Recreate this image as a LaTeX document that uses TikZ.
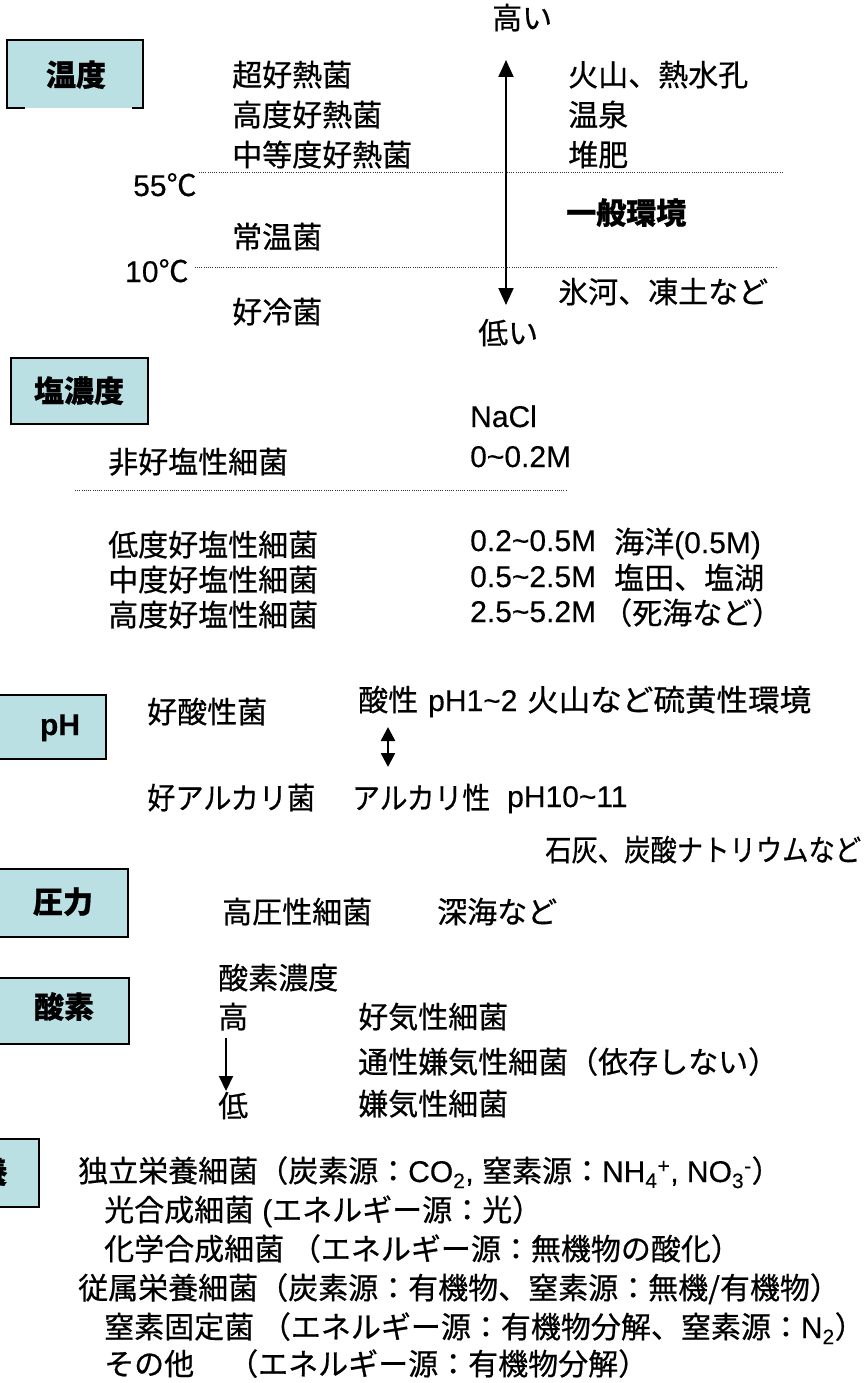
\documentclass[tikz,border=0pt]{standalone}
\usepackage{fontspec}
\usepackage{graphicx}
\setmainfont{Noto Sans CJK JP}[FakeBold=0.6]
\newfontfamily\lat{Liberation Sans}[FakeBold=0.3]
\usetikzlibrary{arrows.meta}
\definecolor{boxblue}{RGB}{186,224,228}
\newcommand{\fs}{\fontsize{30}{34}\selectfont}
\newcommand{\tl}{\textasciitilde}
\newcommand{\sq}[2]{\resizebox{#1pt}{\height}{#2}}
\begin{document}
\begin{tikzpicture}[x=1pt,y=-1pt,
  txt/.style={anchor=west,inner sep=0pt,font=\fs,text height=25pt,text depth=3pt},
  boxlbl/.style={inner sep=0pt,font=\fs\bfseries,text height=25pt,text depth=3pt},
  catbox/.style={fill=boxblue,draw=black,line width=2pt},
  dotline/.style={line width=1pt,dash pattern=on 1pt off 1.2pt,draw=black!80},
  bigarrow/.style={line width=2pt,{Triangle[width=15pt,length=17pt]}-{Triangle[width=15pt,length=17pt]}},
  downarrow/.style={line width=2pt,-{Triangle[width=14pt,length=15pt]}},
  smallarrow/.style={line width=2.5pt,{Triangle[width=14pt,length=14pt]}-{Triangle[width=14pt,length=14pt]}}]
\useasboundingbox (0,0) rectangle (866,1383);
\clip (0,0) rectangle (866,1383);
% ---------- 温度 ----------
\fill[boxblue] (7,40) rectangle (143,108);
\draw[line width=2pt] (25,108) -- (7,108) -- (7,40) -- (143,40) -- (143,108) -- (132,108);
\node[boxlbl] (tempL) at (76,75) {温度};
\node[txt] (high) at (492,18) {高い};
\node[txt] (low) at (478,333) {低い};
\coordinate (arrT) at (506,60);
\coordinate (arrB) at (506,305);
\draw[bigarrow] (arrT) -- (arrB);
\node[txt] (t1) at (232,75) {超好熱菌};
\node[txt] (t2) at (232,115) {高度好熱菌};
\node[txt] (t3) at (232,155) {中等度好熱菌};
\node[txt] (e1) at (568,75) {火山、熱水孔};
\node[txt] (e2) at (568,115) {温泉};
\node[txt] (e3) at (568,155) {堆肥};
\node[txt] (c55) at (133,185) {{\lat 55}℃};
\coordinate (l55e) at (783,173);
\draw[dotline] ([xshift=2pt]c55.east |- l55e) -- (l55e);
\node[txt] (t4) at (232,237) {常温菌};
\node[txt,font=\fs\bfseries] (e4) at (566,213) {一般環境};
\node[txt] (c10) at (125,271) {{\lat 10}℃};
\coordinate (l10e) at (776,267);
\draw[dotline] ([xshift=6pt]c10.east |- l10e) -- (l10e);
\node[txt] (e5) at (558,292) {氷河、凍土など};
\node[txt] (t5) at (232,312) {好冷菌};
% ---------- 塩濃度 ----------
\node[catbox,minimum width=137pt,minimum height=66pt,anchor=north west] (saltB) at (10,357) {};
\node[boxlbl] (saltL) at (79,391) {塩濃度};
\node[txt] (nacl) at (470,416) {\lat NaCl};
\node[txt] (s1) at (108,462) {非好塩性細菌};
\node[txt] (m1) at (470,456) {\lat 0\tl0.2M};
\coordinate (sl1) at (75,490);
\coordinate (sl2) at (566,490);
\draw[dotline] (sl1) -- (sl2);
\node[txt] (s2) at (108,545) {低度好塩性細菌};
\node[txt] (m2) at (470,540) {\lat 0.2\tl0.5M};
\node[txt] (p2) at (614,542) {海洋{\lat (0.5M)}};
\node[txt] (s3) at (108,580) {中度好塩性細菌};
\node[txt] (m3) at (470,576) {\lat 0.5\tl2.5M};
\node[txt] (p3) at (614,578) {塩田、塩湖};
\node[txt] (s4) at (108,615) {高度好塩性細菌};
\node[txt] (m4) at (470,611) {\lat 2.5\tl5.2M};
\node[txt] (p4) at (602,613) {（死海など）};
% ---------- pH ----------
\node[catbox,minimum width=110pt,minimum height=64pt,anchor=north west] (phB) at (-5,694) {};
\node[boxlbl] (phL) at (60,724) {\lat\bfseries pH};
\node[txt] (a1) at (147,712) {好酸性菌};
\node[txt] (a2) at (358,700) {酸性};
\node[txt] (a3) at (428,700) {\lat pH1\tl2};
\node[txt] (a4) at (527,700) {\sq{284}{火山など硫黄性環境}};
\coordinate (pa1) at (388,727);
\coordinate (pa2) at (388,767);
\draw[smallarrow] (pa1) -- (pa2);
\node[txt] (b1) at (147,798) {\sq{168}{好アルカリ菌}};
\node[txt] (b2) at (352,798) {\sq{138}{アルカリ性}};
\node[txt] (b3) at (507,796) {\lat pH10\tl11};
\node[txt] (b4) at (545,850) {\sq{316}{石灰、炭酸ナトリウムなど}};
% ---------- 圧力 ----------
\node[catbox,minimum width=132pt,minimum height=68pt,anchor=north west] (prB) at (-5,868) {};
\node[boxlbl] (prL) at (63,902) {圧力};
\node[txt] (pr1) at (222,912) {高圧性細菌};
\node[txt] (pr2) at (437,912) {深海など};
% ---------- 酸素 ----------
\node[catbox,minimum width=133pt,minimum height=66pt,anchor=north west] (oxB) at (-5,977) {};
\node[boxlbl] (oxL) at (64,1007) {酸素};
\node[txt] (o0) at (218,978) {酸素濃度};
\node[txt] (ohi) at (218,1017) {高};
\node[txt] (olo) at (218,1106) {低};
\coordinate (oa1) at (226,1038);
\coordinate (oa2) at (226,1091);
\draw[downarrow] (oa1) -- (oa2);
\node[txt] (o1) at (358,1017) {好気性細菌};
\node[txt] (o2) at (358,1062) {通性嫌気性細菌（依存しない）};
\node[txt] (o3) at (358,1104) {嫌気性細菌};
% ---------- 栄養 ----------
\node[catbox,minimum width=140pt,minimum height=68pt,anchor=north east] (nuB) at (40,1138) {};
\node[boxlbl,anchor=east] (nuL) at (8,1172) {栄養};
\node[txt] (n1) at (78,1171) {独立栄養細菌（炭素源：{\lat CO\textsubscript{2}, }窒素源：{\lat NH\textsubscript{4}\textsuperscript{+}, NO\textsubscript{3}\textsuperscript{-}}）};
\node[txt] (n2) at (104,1210) {光合成細菌\hspace{8pt}{\lat (}エネルギー源：光）};
\node[txt] (n3) at (104,1249) {化学合成細菌 （エネルギー源：無機物の酸化）};
\node[txt] (n4) at (78,1288) {従属栄養細菌（炭素源：有機物、窒素源：無機/有機物）};
\node[txt] (n5) at (104,1327) {窒素固定菌 （エネルギー源：有機物分解、窒素源：{\lat N\textsubscript{2}}）};
\node[txt] (n6) at (104,1364) {その他};
\node[txt] (n6b) at (228,1364) {（エネルギー源：有機物分解）};
\end{tikzpicture}
\end{document}
